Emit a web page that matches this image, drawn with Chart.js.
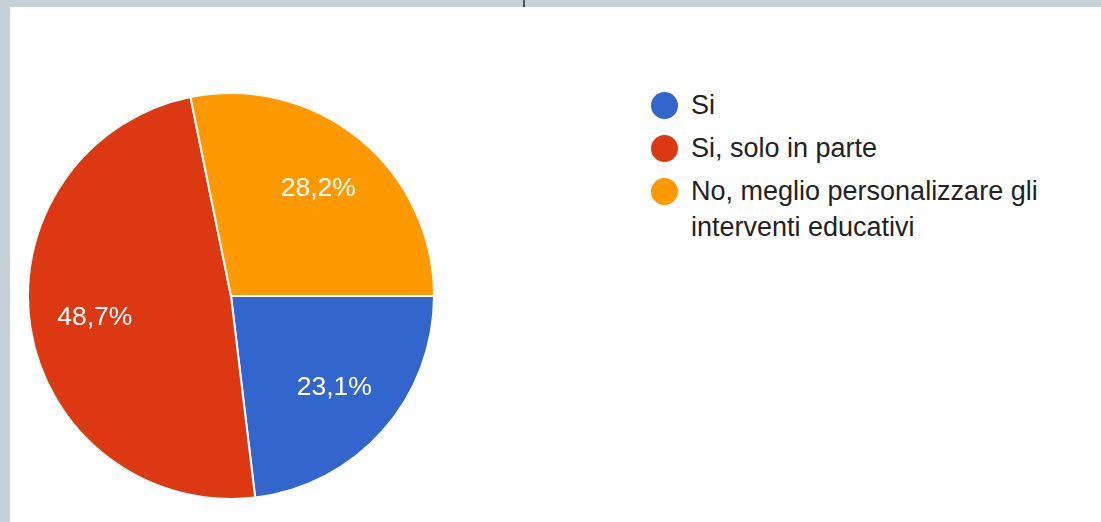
<!DOCTYPE html>
<html>
<head>
<meta charset="utf-8">
<script src="https://cdn.jsdelivr.net/npm/chart.js@4.4.0/dist/chart.umd.min.js"></script>
<style>
html, body { margin: 0; padding: 0; }
body {
  width: 1101px; height: 522px; overflow: hidden; position: relative;
  background: #c6d0d8;
  font-family: "Liberation Sans", Arial, sans-serif;
}
#panel { position: absolute; left: 10px; top: 7px; right: 0; bottom: 0; background: #fff; }
#tick { position: absolute; left: 523px; top: 0; width: 2px; height: 7px; background: #4a5263; }
#pieBox { position: absolute; left: 27px; top: 92px; width: 408px; height: 408px; }
#legend {
  position: absolute; left: 651px; top: 87px; margin: 0; padding: 0; list-style: none;
}
#legend li {
  position: relative; padding-left: 40px; width: 380px;
  font-size: 27px; line-height: 36px; color: #222; margin-bottom: 7px;
}
#legend li span {
  position: absolute; left: 0; top: 4.5px; width: 27px; height: 27px; border-radius: 50%;
}
</style>
</head>
<body>
<div id="panel"></div>
<div id="tick"></div>
<div id="pieBox"><canvas id="myChart"></canvas></div>
<ul id="legend"></ul>
<script>
var categories = ['Si', 'Si, solo in parte', 'No, meglio personalizzare gli interventi educativi'];
var values = [23.1, 48.7, 28.2];
var colors = ['#3366cc', '#dc3912', '#ff9900'];

function fmt(v) {
    return v.toFixed(1).replace('.', ',') + '%';
}

// percentuali dentro le fette
var sliceLabels = {
    id: 'sliceLabels',
    afterDatasetsDraw: function(chart) {
        var ctx = chart.ctx;
        var meta = chart.getDatasetMeta(0);
        ctx.save();
        ctx.fillStyle = '#ffffff';
        ctx.font = '26.5px "Liberation Sans", Arial, sans-serif';
        ctx.textAlign = 'center';
        ctx.textBaseline = 'middle';
        meta.data.forEach(function(arc, i) {
            var p = arc.getProps(['x', 'y', 'startAngle', 'endAngle', 'outerRadius']);
            var mid = (p.startAngle + p.endAngle) / 2;
            var r = p.outerRadius * 0.68;
            ctx.fillText(fmt(values[i]), p.x + Math.cos(mid) * r, p.y + Math.sin(mid) * r);
        });
        ctx.restore();
    }
};

// legenda html (per andare a capo)
var htmlLegend = {
    id: 'htmlLegend',
    afterUpdate: function(chart) {
        var ul = document.getElementById('legend');
        ul.innerHTML = '';
        var items = chart.options.plugins.legend.labels.generateLabels(chart);
        items.forEach(function(item) {
            var li = document.createElement('li');
            var dot = document.createElement('span');
            dot.style.background = item.fillStyle;
            li.appendChild(dot);
            li.appendChild(document.createTextNode(item.text));
            ul.appendChild(li);
        });
    }
};

var ctx = document.getElementById('myChart').getContext('2d');
var myChart = new Chart(ctx, {
    type: 'pie',
    data: {
        labels: categories,
        datasets: [{
            data: values,
            backgroundColor: colors,
            borderColor: '#ffffff',
            borderWidth: 2
        }]
    },
    options: {
        responsive: true,
        maintainAspectRatio: false,
        animation: false,
        rotation: 90,
        layout: { padding: 0 },
        plugins: {
            legend: { display: false },
            tooltip: { enabled: false }
        }
    },
    plugins: [sliceLabels, htmlLegend]
});
</script>
</body>
</html>
